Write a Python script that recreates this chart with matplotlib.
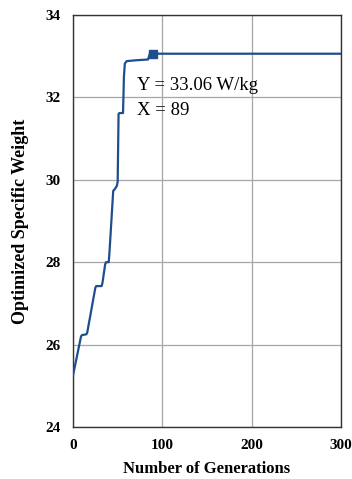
import matplotlib
matplotlib.use("Agg")
import matplotlib.pyplot as plt

generations = [0, 9, 10, 15, 16, 25, 26, 32, 33, 36, 37, 40, 41, 45, 47, 49, 50, 51, 52, 56, 57, 58, 60, 70, 84, 86, 300]
weights = [25.25, 26.2, 26.23, 26.25, 26.3, 27.38, 27.42, 27.42, 27.5, 27.95, 28.0, 28.0, 28.3, 29.73, 29.78, 29.85, 29.95, 31.6, 31.62, 31.62, 32.5, 32.82, 32.88, 32.9, 32.92, 33.06, 33.06]
best_gen = [89]
best_val = [33.06]

xticks = [0, 100, 200, 300]
yticks = [24, 26, 28, 30, 32, 34]

plt.rcParams['font.family'] = ['Liberation Serif', 'DejaVu Serif']

fig = plt.figure(figsize=(3.52, 4.79), dpi=100)
ax = fig.add_axes([0.2074, 0.1086, 0.7614, 0.8601])

color = '#1F4E8C'
ax.plot(generations, weights, color=color, lw=1.6, solid_joinstyle='round', zorder=3)
ax.plot(best_gen, best_val, 's', color=color, ms=6, zorder=4)

ax.set_xlim(0, 300)
ax.set_ylim(24, 34)
ax.set_xticks(xticks)
ax.set_yticks(yticks)
ax.grid(True, color='#a6a6a6', lw=0.9)
ax.set_axisbelow(True)
for s in ax.spines.values():
    s.set_color('#333333')
    s.set_linewidth(1.0)
ax.tick_params(axis='y', length=0, pad=9, labelsize=11)
ax.tick_params(axis='x', length=0, pad=9, labelsize=11)
for lab in ax.get_xticklabels() + ax.get_yticklabels():
    lab.set_fontweight('bold')

ax.set_xlabel('Number of Generations', fontsize=12, fontweight='bold', labelpad=6)
ax.set_ylabel('Optimized Specific Weight', fontsize=13, fontweight='bold', labelpad=12)

ax.text(72, 32.17, 'Y = 33.06 W/kg', fontsize=13.5, va='baseline')
ax.text(72, 31.57, 'X = 89', fontsize=13.5, va='baseline')

fig.savefig('out.png', dpi=100)
